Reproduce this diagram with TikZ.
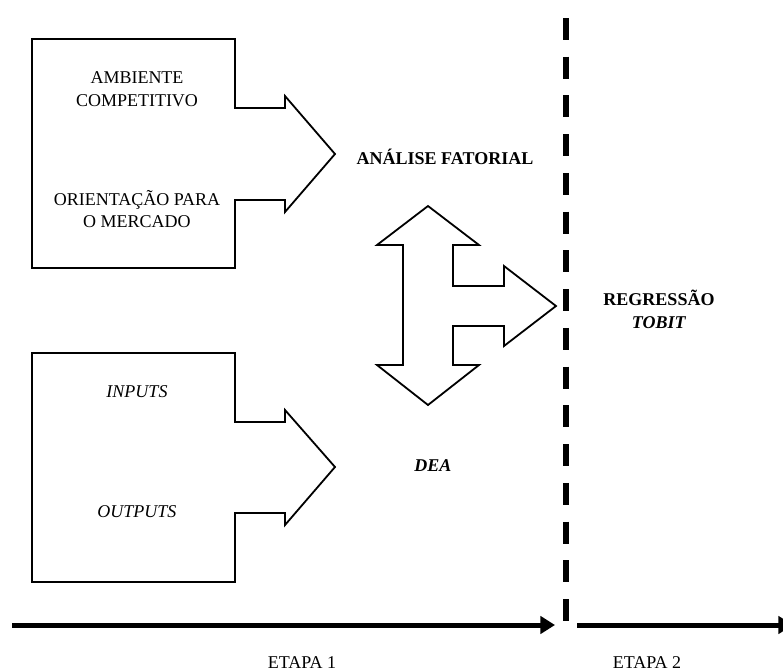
\documentclass[tikz,border=0pt]{standalone}
\usepackage{fontspec}
\setmainfont{Liberation Serif}
\usetikzlibrary{arrows.meta}

\begin{document}
\begin{tikzpicture}[x=0.75pt,y=-0.75pt,thick]
	\tikzstyle{every node}=[align=center,font=\fontsize{13.5}{17}\selectfont];
	\tikzstyle{bloco}=[draw=black,line width=1.35pt,line join=miter];
	\tikzstyle{etapa}=[line width=3.75pt,-{Triangle[length=11pt,width=13pt]}];
	\useasboundingbox (0,0) rectangle (783,672);
	% caixas com setas
	\draw[bloco] (32,39) -- (235,39) -- (235,108) -- (285,108) -- (285,96) -- (335,154) -- (285,212) -- (285,200) -- (235,200) -- (235,268) -- (32,268) -- cycle;
	\draw[bloco] (32,353) -- (235,353) -- (235,422) -- (285,422) -- (285,410) -- (335,467) -- (285,525) -- (285,513) -- (235,513) -- (235,582) -- (32,582) -- cycle;
	% seta dupla
	\draw[bloco] (428,206) -- (479,245) -- (453,245) -- (453,286) -- (504,286) -- (504,266) -- (556,306) -- (504,346) -- (504,326) -- (453,326) -- (453,365) -- (479,365) -- (428,405) -- (377,365) -- (403,365) -- (403,245) -- (377,245) -- cycle;
	\node (amb) at (137,89.5) {AMBIENTE\\COMPETITIVO};
	\node (ori) at (137,209) {ORIENTAÇÃO PARA\\O MERCADO};
	\node (inp) at (137,392) {\textit{INPUTS}};
	\node (outp) at (137,512) {\textit{OUTPUTS}};
	\node (fat) at (445,157) {\textbf{ANÁLISE FATORIAL}};
	\node (reg) at (659,309.5) {\textbf{REGRESSÃO}\\\textbf{\textit{TOBIT}}};
	\node (dea) at (433,466) {\textbf{\textit{DEA}}};
	% etapas
	\coordinate (d1) at (566,18);
	\coordinate (d2) at (566,621);
	\draw[line width=4.3pt,dash pattern=on 16.5pt off 12.55pt] (d1) -- (d2);
	\coordinate (s1) at (12,625);
	\coordinate (e1) at (555,625);
	\coordinate (s2) at (577,625);
	\coordinate (e2) at (793,625);
	\draw[etapa] (s1) -- (e1);
	\draw[etapa] (s2) -- (e2);
	\node (et1) at (302,663) {ETAPA 1};
	\node (et2) at (647,663) {ETAPA 2};
\end{tikzpicture}
\end{document}
